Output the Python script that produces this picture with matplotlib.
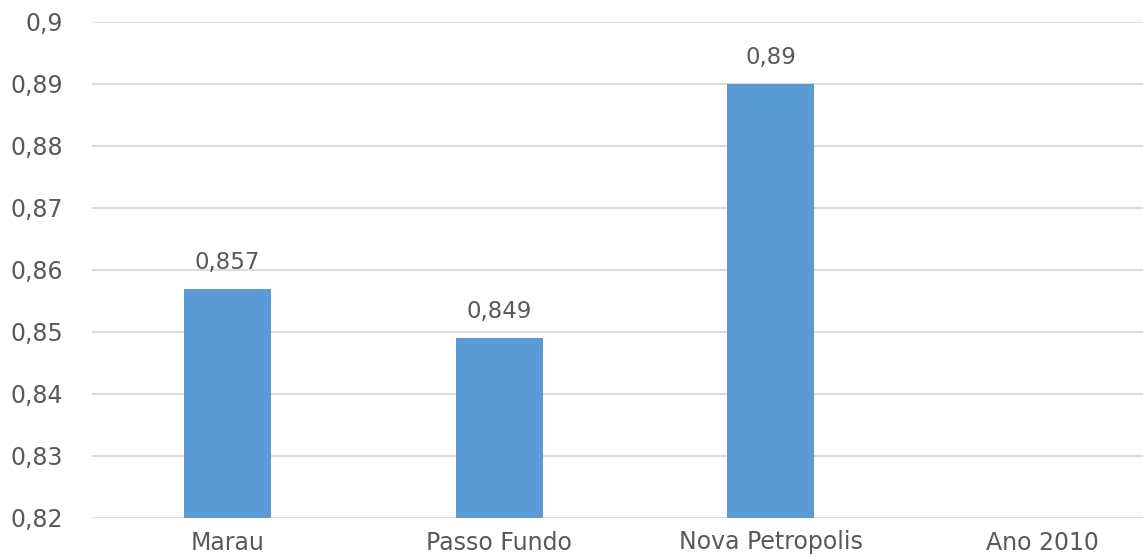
import numpy as np
import matplotlib
matplotlib.use("Agg")
import matplotlib.pyplot as plt
from matplotlib.ticker import FuncFormatter, MultipleLocator

# values
cidades = ["Marau", "Passo Fundo", "Nova Petropolis", "Ano 2010"]
idh = [0.857, 0.849, 0.89, np.nan]
rotulos = ["0,857", "0,849", "0,89", ""]

plt.rcParams['font.family'] = ['DejaVu Sans']
cinza = "#595959"

fig = plt.figure(figsize=(11.43, 5.59), dpi=100)
# plot area runs past the right edge, like the cropped original
ax = fig.add_axes([92 / 1143, 41 / 559, 1086 / 1143, 496 / 559])

x = np.arange(len(cidades))
valores = np.nan_to_num(idh, nan=0.0)
bars = ax.bar(x, valores, width=0.32, color="#5B9BD5", zorder=3)

for xi, v, lab in zip(x, idh, rotulos):
    if not np.isnan(v):
        ax.text(xi, v + 0.0024, lab, ha="center", va="bottom",
                fontsize=16.5, color=cinza)

ax.set_ylim(0.82, 0.9)
ax.set_xlim(-0.5, len(cidades) - 0.5)
ax.yaxis.set_major_locator(MultipleLocator(0.01))
ax.yaxis.set_major_formatter(FuncFormatter(lambda v, p: f"{round(v, 3):g}".replace(".", ",")))
ax.grid(axis="y", color="#D9D9D9", linewidth=1.3, zorder=0)

ax.set_xticks(x)
ax.set_xticklabels(cidades)
ax.tick_params(axis="both", length=0, labelsize=17, colors=cinza)
ax.tick_params(axis="y", pad=21)
ax.tick_params(axis="x", pad=9)

for s in ax.spines.values():
    s.set_visible(False)

fig.savefig("out.png", dpi=100)
